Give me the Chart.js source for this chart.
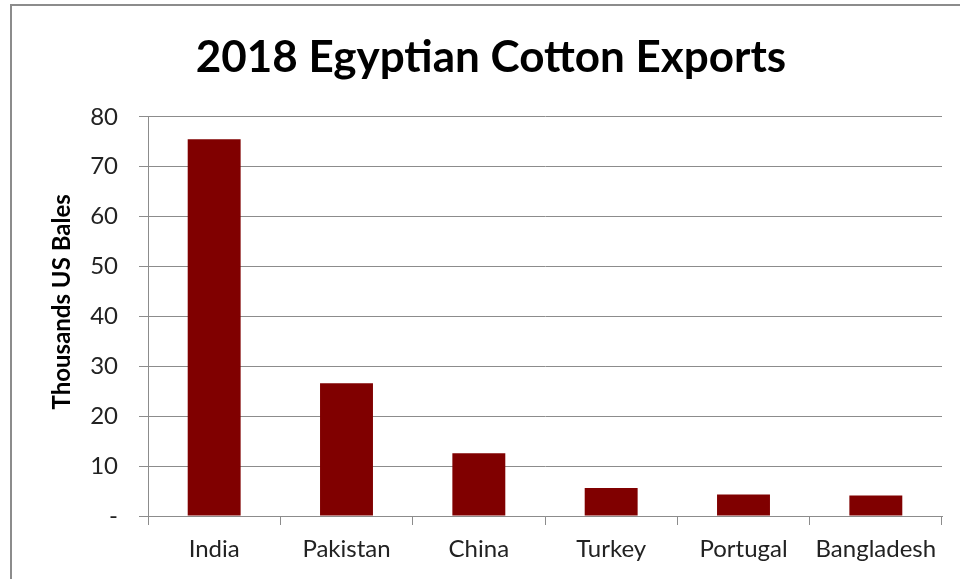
<!DOCTYPE html>
<html>
<head>
<meta charset="utf-8">
<script src="https://cdn.jsdelivr.net/npm/chart.js@4.4.1/dist/chart.umd.min.js"></script>
<style>
  html, body { margin: 0; padding: 0; background: #fff; }
  #wrap { position: relative; width: 960px; height: 579px; overflow: hidden; }
  #frame { position: absolute; left: 10px; top: 4px; width: 980px; height: 600px;
           border-left: 2px solid #8c8c8c; border-top: 2px solid #8c8c8c; }
  canvas { position: absolute; left: 0; top: 0; }
</style>
</head>
<body>
<div id="wrap">
  <div id="frame"></div>
  <canvas id="chartCanvas" width="960" height="579"></canvas>
</div>
<script>
const countries = ['India', 'Pakistan', 'China', 'Turkey', 'Portugal', 'Bangladesh'];
const bales = [75.5, 26.6, 12.6, 5.6, 4.3, 4.1];   // thousands US bales
const yTicks = [0, 10, 20, 30, 40, 50, 60, 70, 80];

const ctx = document.getElementById('chartCanvas').getContext('2d');
new Chart(ctx, {
  type: 'bar',
  data: {
    labels: countries,
    datasets: [{
      data: bales,
      backgroundColor: '#800000',
      categoryPercentage: 1,
      barPercentage: 0.4
    }]
  },
  options: {
    responsive: false,
    animation: false,
    layout: { padding: { top: 0, right: 18, bottom: 0, left: 40 } },
    plugins: {
      legend: { display: false },
      tooltip: { enabled: false },
      title: {
        display: true,
        text: '2018 Egyptian Cotton Exports',
        color: '#000',
        font: { family: 'Lato', size: 44, weight: 'bold' },
        padding: { top: 31, bottom: 33 }
      }
    },
    scales: {
      x: {
        grid: { drawOnChartArea: false, color: '#8c8c8c', tickLength: 9, offset: true },
        border: { color: '#8c8c8c' },
        ticks: { color: '#222', font: { family: 'Lato', size: 24 }, padding: 10 },
        afterFit: s => { s.height = 63; }
      },
      y: {
        min: 0,
        max: 80,
        afterBuildTicks: s => { s.ticks = yTicks.map(v => ({ value: v })); },
        grid: { color: '#8c8c8c', tickLength: 9 },
        border: { color: '#8c8c8c' },
        ticks: {
          color: '#222',
          font: { family: 'Lato', size: 24 },
          padding: 21,
          callback: v => v === 0 ? '-' : v
        },
        title: {
          display: true,
          // leading spaces nudge the rotated title up a little
          text: '     Thousands US Bales',
          color: '#000',
          font: { family: 'Lato', size: 24, weight: 'bold' },
          padding: { top: 8, bottom: 0 }
        },
        afterFit: s => { s.width = 108; }
      }
    }
  }
});
</script>
</body>
</html>
